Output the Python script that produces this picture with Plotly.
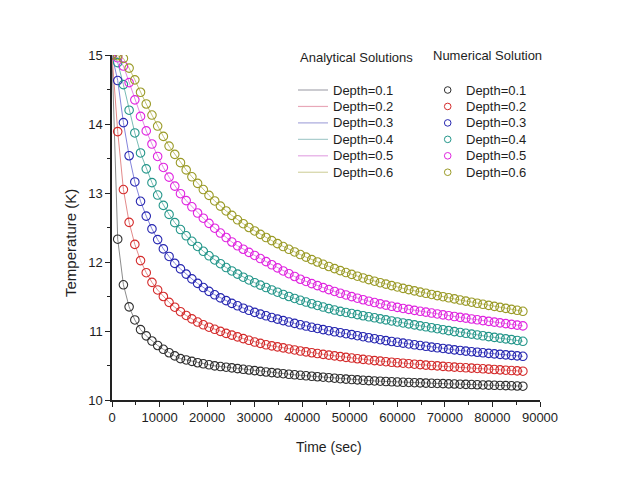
import plotly.graph_objects as go

# ---------------- data ----------------
time_sec = list(range(0, 86401, 1200))  # 0 .. 86400 s every 1200 s

depth_labels = ["Depth=0.1", "Depth=0.2", "Depth=0.3", "Depth=0.4", "Depth=0.5", "Depth=0.6"]

temp_d01 = [15.0, 12.33, 11.67, 11.35, 11.16, 11.02, 10.93, 10.855, 10.79, 10.735, 10.685, 10.64, 10.60,
            10.58, 10.56, 10.54, 10.525, 10.51, 10.495, 10.485, 10.475, 10.465, 10.455, 10.445, 10.435,
            10.425, 10.415, 10.406, 10.397, 10.389, 10.381, 10.373, 10.365, 10.358, 10.351, 10.344, 10.337,
            10.33, 10.323, 10.316, 10.309, 10.303, 10.297, 10.291, 10.286, 10.281, 10.276, 10.272, 10.268,
            10.264, 10.26, 10.257, 10.254, 10.251, 10.248, 10.245, 10.242, 10.24, 10.237, 10.234, 10.232,
            10.229, 10.226, 10.224, 10.221, 10.218, 10.216, 10.213, 10.211, 10.209, 10.206, 10.203, 10.20]

temp_d02 = [15.0, 13.89, 13.05, 12.575, 12.255, 12.02, 11.845, 11.705, 11.595, 11.50, 11.415, 11.345, 11.28,
            11.225, 11.175, 11.13, 11.09, 11.055, 11.025, 10.995, 10.965, 10.94, 10.915, 10.89, 10.865,
            10.84, 10.82, 10.80, 10.785, 10.77, 10.755, 10.74, 10.725, 10.71, 10.697, 10.685, 10.673,
            10.661, 10.65, 10.639, 10.628, 10.618, 10.608, 10.598, 10.589, 10.58, 10.571, 10.563, 10.555,
            10.547, 10.54, 10.533, 10.526, 10.519, 10.512, 10.506, 10.5, 10.494, 10.488, 10.482, 10.477,
            10.472, 10.467, 10.462, 10.457, 10.452, 10.447, 10.442, 10.437, 10.432, 10.427, 10.422, 10.417]

temp_d03 = [15.0, 14.63, 14.02, 13.54, 13.16, 12.88, 12.665, 12.48, 12.325, 12.19, 12.08, 11.98, 11.90,
            11.825, 11.755, 11.69, 11.63, 11.575, 11.525, 11.48, 11.44, 11.40, 11.365, 11.33, 11.30,
            11.27, 11.245, 11.22, 11.195, 11.172, 11.15, 11.13, 11.11, 11.09, 11.072, 11.054, 11.037,
            11.02, 11.004, 10.989, 10.975, 10.961, 10.947, 10.932, 10.917, 10.902, 10.888, 10.874, 10.861,
            10.848, 10.836, 10.824, 10.812, 10.80, 10.789, 10.778, 10.767, 10.757, 10.747, 10.737, 10.727,
            10.718, 10.709, 10.70, 10.692, 10.684, 10.676, 10.668, 10.661, 10.654, 10.647, 10.64, 10.633]

temp_d04 = [15.0, 14.89, 14.57, 14.20, 13.87, 13.58, 13.35, 13.15, 12.97, 12.82, 12.69, 12.57, 12.47,
            12.38, 12.30, 12.225, 12.155, 12.09, 12.03, 11.975, 11.92, 11.87, 11.825, 11.78, 11.74,
            11.70, 11.665, 11.63, 11.595, 11.562, 11.53, 11.50, 11.472, 11.445, 11.42, 11.395, 11.37,
            11.347, 11.325, 11.304, 11.285, 11.269, 11.253, 11.237, 11.221, 11.206, 11.191, 11.176, 11.161,
            11.146, 11.131, 11.117, 11.103, 11.089, 11.075, 11.061, 11.047, 11.033, 11.019, 11.005, 10.991,
            10.979, 10.967, 10.955, 10.943, 10.931, 10.919, 10.908, 10.897, 10.886, 10.875, 10.863, 10.851]

temp_d05 = [15.0, 14.96, 14.84, 14.60, 14.35, 14.11, 13.90, 13.71, 13.53, 13.37, 13.23, 13.10, 12.99,
            12.89, 12.80, 12.71, 12.635, 12.56, 12.49, 12.42, 12.355, 12.29, 12.235, 12.185, 12.14,
            12.095, 12.05, 12.005, 11.96, 11.915, 11.87, 11.83, 11.79, 11.75, 11.718, 11.687, 11.657,
            11.628, 11.60, 11.573, 11.547, 11.522, 11.498, 11.475, 11.453, 11.432, 11.412, 11.393, 11.375,
            11.358, 11.342, 11.327, 11.313, 11.299, 11.286, 11.273, 11.26, 11.247, 11.234, 11.222, 11.21,
            11.198, 11.186, 11.174, 11.162, 11.151, 11.14, 11.129, 11.118, 11.107, 11.096, 11.085, 11.074]

temp_d06 = [15.0, 14.99, 14.95, 14.81, 14.64, 14.46, 14.29, 14.13, 13.97, 13.82, 13.68, 13.56, 13.44,
            13.335, 13.235, 13.14, 13.05, 12.965, 12.885, 12.81, 12.74, 12.675, 12.612, 12.555, 12.50,
            12.45, 12.40, 12.355, 12.31, 12.266, 12.224, 12.184, 12.146, 12.108, 12.071, 12.035, 12.0,
            11.967, 11.935, 11.904, 11.875, 11.847, 11.82, 11.794, 11.769, 11.745, 11.722, 11.70, 11.679,
            11.658, 11.638, 11.618, 11.599, 11.581, 11.564, 11.547, 11.53, 11.513, 11.497, 11.481, 11.465,
            11.449, 11.433, 11.417, 11.402, 11.387, 11.372, 11.357, 11.342, 11.328, 11.314, 11.30, 11.286]

x_ticks = [0, 10000, 20000, 30000, 40000, 50000, 60000, 70000, 80000, 90000]
y_ticks = [10, 11, 12, 13, 14, 15]

# ---------------- styles ----------------
series = [temp_d01, temp_d02, temp_d03, temp_d04, temp_d05, temp_d06]
marker_colors = ["#2e2e2e", "#d42a2a", "#2626b0", "#23968a", "#e024e0", "#9a9a26"]
line_colors = ["#8c8c8c", "#e38a8a", "#8484dc", "#78bcb4", "#e488e4", "#c4c478"]
legend_line_colors = ["#a8a8b0", "#e8a8b8", "#a8a8dc", "#a8cccc", "#e4a8e4", "#d4d4a4"]

PAGE_OFF = 8                      # default body margin of the html page
W, H = 627 - PAGE_OFF, 480 - PAGE_OFF
PL, PT, PW, PH = 112, 55, 428, 345  # plot area in window pixels
ML, MT = PL - PAGE_OFF, PT - PAGE_OFF
MR, MB = W - ML - PW, H - MT - PH
FONT = "Arial, Liberation Sans, sans-serif"
TXT = "#1e1e1e"


def px(xp):
    return (xp - PL) / PW


def py(yp):
    return (PT + PH - yp) / PH


fig = go.Figure()

# analytical solutions (thin lines)
for vals, lc, name in zip(series, line_colors, depth_labels):
    fig.add_trace(go.Scatter(x=time_sec, y=vals, mode="lines", name=name,
                             line=dict(color=lc, width=1), showlegend=False, hoverinfo="skip"))

# numerical solution (open circles)
for vals, mc, name in zip(series, marker_colors, depth_labels):
    fig.add_trace(go.Scatter(x=time_sec, y=vals, mode="markers", name=name,
                             marker=dict(symbol="circle-open", size=8.5, color=mc, line=dict(width=1.1, color=mc)),
                             showlegend=False))

shapes = []
annotations = []

# legend titles
annotations.append(dict(x=px(298), y=py(57), xref="paper", yref="paper", xanchor="left", yanchor="middle",
                        text="Analytical Solutions", showarrow=False, font=dict(size=13, color=TXT, family=FONT)))
annotations.append(dict(x=px(431), y=py(56), xref="paper", yref="paper", xanchor="left", yanchor="middle",
                        text="Numerical Solution", showarrow=False, font=dict(size=13, color=TXT, family=FONT)))

for i, name in enumerate(depth_labels):
    yy = py(90 + 16.45 * i)
    shapes.append(dict(type="line", xref="paper", yref="paper", x0=px(298), x1=px(328), y0=yy, y1=yy,
                       line=dict(color=legend_line_colors[i], width=1.2)))
    annotations.append(dict(x=px(331), y=yy, xref="paper", yref="paper", xanchor="left", yanchor="middle",
                            text=name, showarrow=False, font=dict(size=13, color=TXT, family=FONT)))
    shapes.append(dict(type="circle", xref="paper", yref="paper", xsizemode="pixel", ysizemode="pixel",
                       xanchor=px(447.7), yanchor=yy, x0=-3.3, x1=3.3, y0=-3.3, y1=3.3,
                       line=dict(color=marker_colors[i], width=1)))
    annotations.append(dict(x=px(464), y=yy, xref="paper", yref="paper", xanchor="left", yanchor="middle",
                            text=name, showarrow=False, font=dict(size=13, color=TXT, family=FONT)))

# axis titles
annotations.append(dict(x=px(70), y=py(243), xref="paper", yref="paper", xanchor="center", yanchor="middle",
                        text="Temperature (K)", textangle=-90, showarrow=False,
                        font=dict(size=15, color=TXT, family=FONT)))
annotations.append(dict(x=px(329), y=py(447), xref="paper", yref="paper", xanchor="center", yanchor="middle",
                        text="Time (sec)", showarrow=False, font=dict(size=14, color=TXT, family=FONT)))

axis_common = dict(showgrid=False, zeroline=False, showline=True, linecolor="#222222", linewidth=1.5,
                   ticks="outside", ticklen=5, tickwidth=1.2, tickcolor="#222222",
                   tickfont=dict(size=13, color=TXT, family=FONT), mirror=False)

fig.update_layout(
    width=W, height=H,
    margin=dict(l=ML, r=MR, t=MT, b=MB, autoexpand=False),
    paper_bgcolor="white", plot_bgcolor="white",
    showlegend=False,
    xaxis=dict(range=[0, 90000], tickvals=x_ticks, ticktext=[str(v) for v in x_ticks],
               minor=dict(dtick=5000, ticks="outside", ticklen=3, tickcolor="#222222", tickwidth=1.1),
               **axis_common),
    yaxis=dict(range=[10, 15], tickvals=y_ticks, ticktext=[str(v) for v in y_ticks],
               minor=dict(dtick=0.5, ticks="outside", ticklen=3, tickcolor="#222222", tickwidth=1.1),
               **axis_common),
    shapes=shapes,
    annotations=annotations,
    font=dict(family=FONT, color=TXT),
)

fig.write_html("out.html")
